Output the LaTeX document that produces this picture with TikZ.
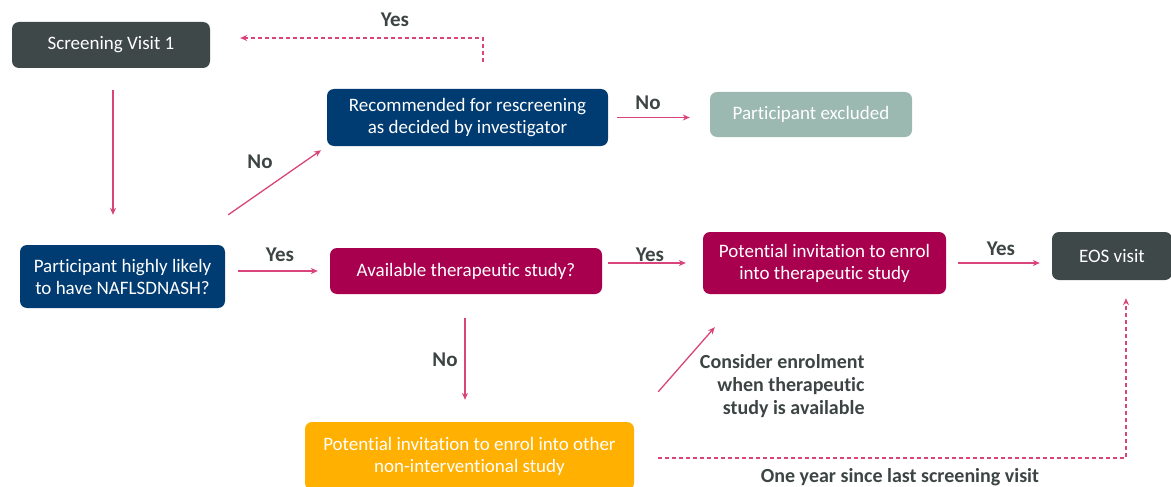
\documentclass[tikz,border=0pt]{standalone}
\usepackage{fontspec}
\setmainfont{Carlito}[Ligatures=NoCommon]
\usetikzlibrary{arrows.meta}
\usetikzlibrary{positioning}

\definecolor{slate}{HTML}{3F4849}
\definecolor{navy}{HTML}{003B71}
\definecolor{berry}{HTML}{A8004F}
\definecolor{sage}{HTML}{9BB8B1}
\definecolor{amber}{HTML}{FFB000}
\definecolor{rose}{HTML}{D9447A}
\definecolor{ink}{HTML}{3C4444}

\tikzset{
  box/.style={rectangle,rounded corners=7pt,text=white,align=center,inner sep=0pt,font=\fontsize{19}{22}\selectfont},
  flow/.style={rose,line width=1.3pt,-{Stealth[length=7pt,width=6pt]}},
  dashflow/.style={flow,dash pattern=on 4pt off 3pt},
  lbl/.style={text=ink,font=\fontsize{21}{24}\selectfont\bfseries},
  note/.style={text=ink,font=\fontsize{20}{23}\selectfont\bfseries}
}

\begin{document}
\begin{tikzpicture}[x=1pt,y=-1pt]
\useasboundingbox (0,0) rectangle (1171,487);

% boxes
\node[box,fill=slate,minimum width=198pt,minimum height=46pt] (screen) at (111,45) {Screening Visit 1};
\node[box,fill=navy,minimum width=281pt,minimum height=57pt] (resc) at (467.5,117.5) {Recommended for rescreening\\as decided by investigator};
\node[box,fill=sage,minimum width=202pt,minimum height=45pt] (excl) at (811,114.5) {Participant excluded};
\node[box,fill=navy,minimum width=205pt,minimum height=63pt] (part) at (122.5,276.5) {Participant highly likely\\to have NAFLSDNASH?};
\node[box,fill=berry,minimum width=272pt,minimum height=46pt] (avail) at (466,271) {Available therapeutic study?};
\node[box,fill=berry,minimum width=243pt,minimum height=62pt] (pot) at (824.5,263) {Potential invitation to enrol\\into therapeutic study};
\node[box,fill=slate,minimum width=120pt,minimum height=48pt] (eos) at (1112,256) {EOS visit};
\node[box,fill=amber,minimum width=329pt,minimum height=68pt] (orng) at (469.5,456) {Potential invitation to enrol into other\\non-interventional study};

% free ends
\coordinate (yesbend) at (483,38);
\coordinate (yearbend) at (1126,458);
\coordinate (ps) at ([xshift=3pt,yshift=30pt]part.north east);
\coordinate (cs) at ([xshift=24pt,yshift=30pt]orng.north east);
\coordinate (ce) at ([xshift=12pt,yshift=-33pt]pot.south west);

% connectors
\draw[flow,shorten <=22pt,shorten >=30pt] (screen.south -| 113,0) -- (part.north -| 113,0);
\draw[flow,shorten >=7pt] (ps) -- (resc.south west);
\draw[dashflow,shorten <=27pt,shorten >=30pt] (resc.north -| yesbend) -- (yesbend) -- (yesbend -| screen.east);
\draw[flow,shorten <=9pt,shorten >=20pt] (resc.east) -- (resc.east -| excl.west);
\draw[flow,shorten <=13pt,shorten >=12pt] (part.east |- avail) -- (avail.west);
\draw[flow,shorten <=6pt,shorten >=17pt] (avail.east |- pot) -- (pot.west);
\draw[flow,shorten <=12pt,shorten >=12pt] (pot.east) -- (pot.east -| eos.west);
\draw[flow,shorten <=24pt,shorten >=22pt] (avail.south -| 465,0) -- (orng.north -| 465,0);
\draw[flow] (cs) -- (ce);
\draw[dashflow,shorten <=24pt,shorten >=18pt] (orng.east |- yearbend) -- (yearbend) -- (yearbend |- eos.south);

% labels
\node[lbl] (l1) at (395,20) {Yes};
\node[lbl] (l2) at (260,162) {No};
\node[lbl] (l3) at (648,103) {No};
\node[lbl] (l4) at (280,255) {Yes};
\node[lbl] (l5) at (650,255) {Yes};
\node[lbl] (l6) at (1001,249) {Yes};
\node[lbl] (l7) at (445,360) {No};
\node[note,align=right,anchor=east] (n1) at (868,386) {Consider enrolment\\when therapeutic\\study is available};
\node[note] (n2) at (900,477) {One year since last screening visit};
\end{tikzpicture}
\end{document}
